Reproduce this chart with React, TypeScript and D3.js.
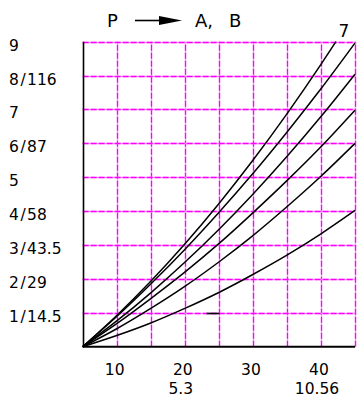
import * as d3 from 'd3'

// x steps (P axis), y gridlines and labels
const xSteps = [5, 10, 15, 20, 25, 30, 35, 40, 45]
const yGrid = [0, 1, 2, 3, 4, 5, 6, 7, 8, 9]
const yLabels = ['1/14.5', '2/29', '3/43.5', '4/58', '5', '6/87', '7', '8/116', '9']
const xLabels = [10, 20, 30, 40]
const xSubLabels = [{ at: 20, text: '5.3' }, { at: 40, text: '10.56' }]

// curve values at xSteps (the top one stops at the top edge)
const curve7 = [0, 0.92, 1.93, 3.03, 4.22, 5.5, 6.87, 8.33]
const curve7End = [42.2, 9]
const curve6 = [0, 0.89, 1.85, 2.87, 3.96, 5.11, 6.33, 7.61, 8.96]
const curve5 = [0, 0.76, 1.59, 2.49, 3.46, 4.5, 5.61, 6.79, 8.04]
const curve4 = [0, 0.68, 1.42, 2.2, 3.04, 3.95, 4.9, 5.9, 6.98]
const curve3 = [0, 0.53, 1.13, 1.78, 2.5, 3.28, 4.13, 5.03, 6.0]
const curve2 = [0, 0.33, 0.7, 1.13, 1.6, 2.13, 2.7, 3.33, 4.02]

// short marker segment near 25 / 1
const markX = [23.2, 25.1]
const markY = 1

const FONT = '"DejaVu Sans", sans-serif'

export default function App() {
  const x = d3.scaleLinear().domain([5, 45]).range([82.7, 355])
  const y = d3.scaleLinear().domain([0, 9]).range([346.7, 41.7])
  const px = (v: number) => Math.round(v) + 0.5

  const line = d3
    .line<[number, number]>()
    .x((d) => x(d[0]))
    .y((d) => y(d[1]))
    .curve(d3.curveMonotoneX)

  const toPts = (vals: number[]): [number, number][] => vals.map((v, i) => [xSteps[i], v])

  const series: [number, number][][] = [
    [...toPts(curve7), curve7End as [number, number]],
    toPts(curve6),
    toPts(curve5),
    toPts(curve4),
    toPts(curve3),
    toPts(curve2),
  ]

  const grid = (key: string, x1: number, y1: number, x2: number, y2: number) => (
    <g key={key}>
      <line x1={x1} y1={y1} x2={x2} y2={y2} stroke="#ffa0ff" strokeWidth={1.3} />
      <line x1={x1} y1={y1} x2={x2} y2={y2} stroke="#ff00ff" strokeWidth={1.3} strokeDasharray="6 2" />
    </g>
  )

  return (
    <svg
      width={357}
      height={397}
      style={{ position: 'absolute', left: 0, top: 0, background: '#fff' }}
    >
      {/* grid */}
      {xSteps.slice(1).map((v) => grid('vx' + v, px(x(v)), y(0), px(x(v)), y(9)))}
      {yGrid.slice(1).map((v) => grid('hy' + v, x(5), px(y(v)), x(45), px(y(v))))}

      {/* axes */}
      <line x1={px(x(5))} y1={y(9)} x2={px(x(5))} y2={y(0)} stroke="#000" strokeWidth={1.6} />
      <line x1={x(5)} y1={y(0)} x2={x(45)} y2={y(0)} stroke="#000" strokeWidth={2} />

      {/* curves */}
      {series.map((pts, i) => (
        <path key={i} d={line(pts) || ''} fill="none" stroke="#000" strokeWidth={1.5} />
      ))}
      <line x1={x(markX[0])} y1={px(y(markY))} x2={x(markX[1])} y2={px(y(markY))} stroke="#000" strokeWidth={1.6} />

      {/* y labels */}
      {yLabels.map((t, i) => {
        const parts = t.split('/')
        return (
          <text key={t} x={9} y={y(i + 1) + 9} fontFamily={FONT} fontSize={15.5} fill="#000">
            {parts[0]}
            {parts.length > 1 && <tspan dx={1.5}>/</tspan>}
            {parts.length > 1 && <tspan dx={1.5}>{parts[1]}</tspan>}
          </text>
        )
      })}

      {/* x labels */}
      {xLabels.map((v) => (
        <text key={v} x={x(v) - 2} y={375} fontFamily={FONT} fontSize={15.5} textAnchor="middle" fill="#000">
          {v}
        </text>
      ))}
      {xSubLabels.map((d) => (
        <text key={d.text} x={x(d.at) - 4} y={394} fontFamily={FONT} fontSize={15.5} textAnchor="middle" fill="#000">
          {d.text}
        </text>
      ))}

      {/* title */}
      <text x={107} y={27} fontFamily={FONT} fontSize={18} fill="#000">P</text>
      <line x1={135} y1={20.5} x2={165} y2={20.5} stroke="#000" strokeWidth={1.6} />
      <path d="M159,16 L182,20.5 L159,25 Z" fill="#000" />
      <text x={195} y={27} fontFamily={FONT} fontSize={18} fill="#000">A,</text>
      <text x={229} y={27} fontFamily={FONT} fontSize={18} fill="#000">B</text>

      {/* curve label */}
      <text x={344} y={37} fontFamily={FONT} fontSize={17} textAnchor="middle" fill="#000">7</text>
    </svg>
  )
}
